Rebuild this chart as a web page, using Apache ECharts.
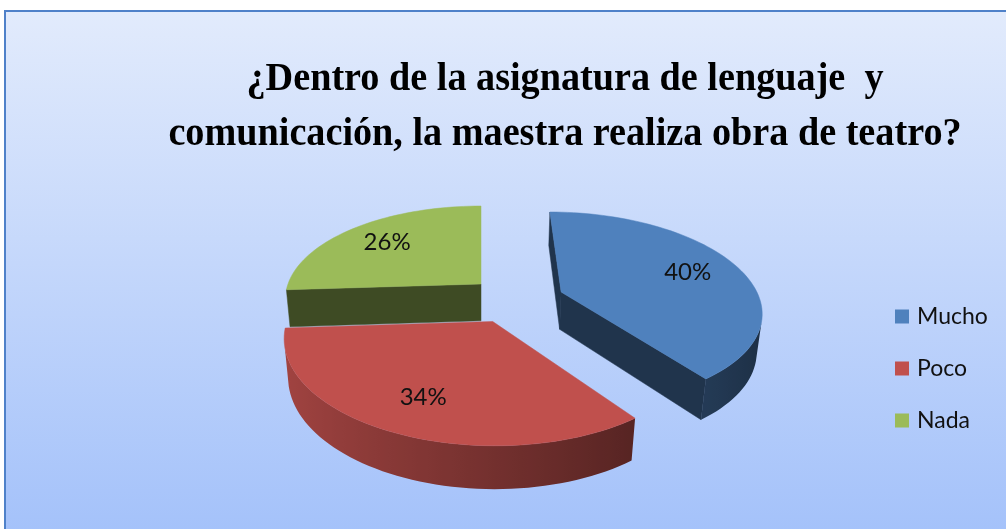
<!DOCTYPE html>
<html>
<head>
<meta charset="utf-8">
<script src="https://cdn.jsdelivr.net/npm/echarts@6/dist/echarts.min.js"></script>
<style>
  html, body { margin: 0; padding: 0; background: #fff; }
  #chart { width: 1006px; height: 529px; }
</style>
</head>
<body>
<div id="chart"></div>
<script>
const categories = ['Mucho', 'Poco', 'Nada']
const values = [40, 34, 26]
const colors = ['#4f81bd', '#c0504d', '#9bbb59']
// pull-out of each slice in pie-plane units [x, depth]
const explode = [[79, -17], [11, -75], [0, 0]]

// fake 3d camera
const VX = 481, VY = 284, R = 193, THICK = 42.5
const SIN = 0.469, COS = Math.sqrt(1 - SIN * SIN), DIST = 1061
const cam = [0, -DIST * COS, DIST * SIN]
const total = values.reduce((a, b) => a + b, 0)

function project(x, z, h) {
  const p = DIST / (DIST + z * COS - h * SIN)
  return [VX + x * p, VY - (z * SIN + h * COS) * p]
}

function shade(hex, f) {
  const n = parseInt(hex.slice(1), 16)
  const c = [(n >> 16) & 255, (n >> 8) & 255, n & 255].map(v => Math.round(v * f))
  return 'rgb(' + c.join(',') + ')'
}

function wallFactor(s) {
  return 0.85 - (s + 1) / 2 * 0.5
}

function faces(ci) {
  return function () {
    let before = 0
    for (let k = 0; k < ci; k++) before += values[k]
    const a1 = before / total * Math.PI * 2
    const a2 = (before + values[ci]) / total * Math.PI * 2
    const [ox, oz] = explode[ci]
    const base = colors[ci]
    const steps = Math.max(8, Math.round((a2 - a1) / Math.PI * 90))
    const angs = []
    for (let j = 0; j <= steps; j++) angs.push(a1 + (a2 - a1) * j / steps)
    const pt = (a, r, h) => project(ox + r * Math.sin(a), oz + r * Math.cos(a), h)
    const sees = (n, x, z, h) => n[0] * (cam[0] - x) + n[1] * (cam[1] - z) + n[2] * (cam[2] - h) > 0

    const children = []
    // radial cut faces
    ;[[a1, [-Math.cos(a1), Math.sin(a1), 0]], [a2, [Math.cos(a2), -Math.sin(a2), 0]]].forEach(([a, n]) => {
      const mx = ox + R / 2 * Math.sin(a), mz = oz + R / 2 * Math.cos(a)
      if (!sees(n, mx, mz, -THICK / 2)) return
      children.push({
        type: 'polygon',
        shape: { points: [project(ox, oz, 0), pt(a, R, 0), pt(a, R, -THICK), project(ox, oz, -THICK)] },
        style: { fill: shade(base, 0.4), stroke: shade(base, 0.4), lineWidth: 0.5 }
      })
    })
    // outer wall, front part only
    const vis = angs.filter(a => sees([Math.sin(a), Math.cos(a), 0],
      ox + R * Math.sin(a), oz + R * Math.cos(a), -THICK / 2))
    if (vis.length > 1) {
      const top = vis.map(a => pt(a, R, 0))
      const bot = vis.map(a => pt(a, R, -THICK)).reverse()
      const xs = top.map(p => p[0])
      const xmin = Math.min(...xs), xmax = Math.max(...xs)
      const stops = vis.map((a, j) => ({
        offset: xmax > xmin ? (xs[j] - xmin) / (xmax - xmin) : 0,
        color: shade(base, wallFactor(Math.sin(a)))
      })).sort((s, t) => s.offset - t.offset)
      children.push({
        type: 'polygon',
        shape: { points: top.concat(bot) },
        style: {
          fill: { type: 'linear', x: xmin, y: 0, x2: xmax, y2: 0, global: true, colorStops: stops },
          lineWidth: 0
        }
      })
    }
    // top face
    children.push({
      type: 'polygon',
      shape: { points: [project(ox, oz, 0)].concat(angs.map(a => pt(a, R, 0))) },
      style: { fill: base, stroke: base, lineWidth: 0.5 }
    })
    // label
    const am = (a1 + a2) / 2
    const lp = pt(am, R * 0.72, 0)
    children.push({
      type: 'text',
      x: lp[0], y: lp[1],
      style: {
        text: Math.round(values[ci] / total * 100) + '%',
        fill: '#111', font: '24px Lato', align: 'center', verticalAlign: 'middle'
      }
    })
    return { type: 'group', children }
  }
}

// back slices first so the front ones cover them
const drawOrder = [2, 0, 1]
const series = drawOrder.map((ci, k) => ({
  type: 'custom',
  name: categories[ci],
  coordinateSystem: 'none',
  z: 2 + k,
  itemStyle: { color: colors[ci] },
  data: [values[ci]],
  renderItem: faces(ci)
}))

const chart = echarts.init(document.getElementById('chart'))
chart.setOption({
  animation: false,
  graphic: [
    {
      type: 'rect', z: -10, silent: true,
      shape: { x: 5, y: 11, width: 1010, height: 530 },
      style: {
        fill: {
          type: 'linear', x: 0, y: 0, x2: 0, y2: 1,
          colorStops: [{ offset: 0, color: '#e2ebfc' }, { offset: 1, color: '#a3c1fa' }]
        },
        stroke: '#4f81c9', lineWidth: 2
      }
    },
    {
      type: 'text', z: 10, x: 565, y: 52, scaleX: 0.955,
      style: {
        text: '¿Dentro de la asignatura de lenguaje  y\ncomunicación, la maestra realiza obra de teatro?',
        font: 'bold 40px "Liberation Serif"', fill: '#000',
        align: 'center', lineHeight: 55
      }
    }
  ],
  legend: {
    data: categories,
    orient: 'vertical',
    left: 890,
    top: 300,
    icon: 'rect',
    itemWidth: 14,
    itemHeight: 14,
    itemGap: 29,
    selectedMode: false,
    textStyle: { fontFamily: 'Lato', fontSize: 23, color: '#111', lineHeight: 20, padding: [0, 0, 0, 3] }
  },
  series
})
</script>
</body>
</html>
